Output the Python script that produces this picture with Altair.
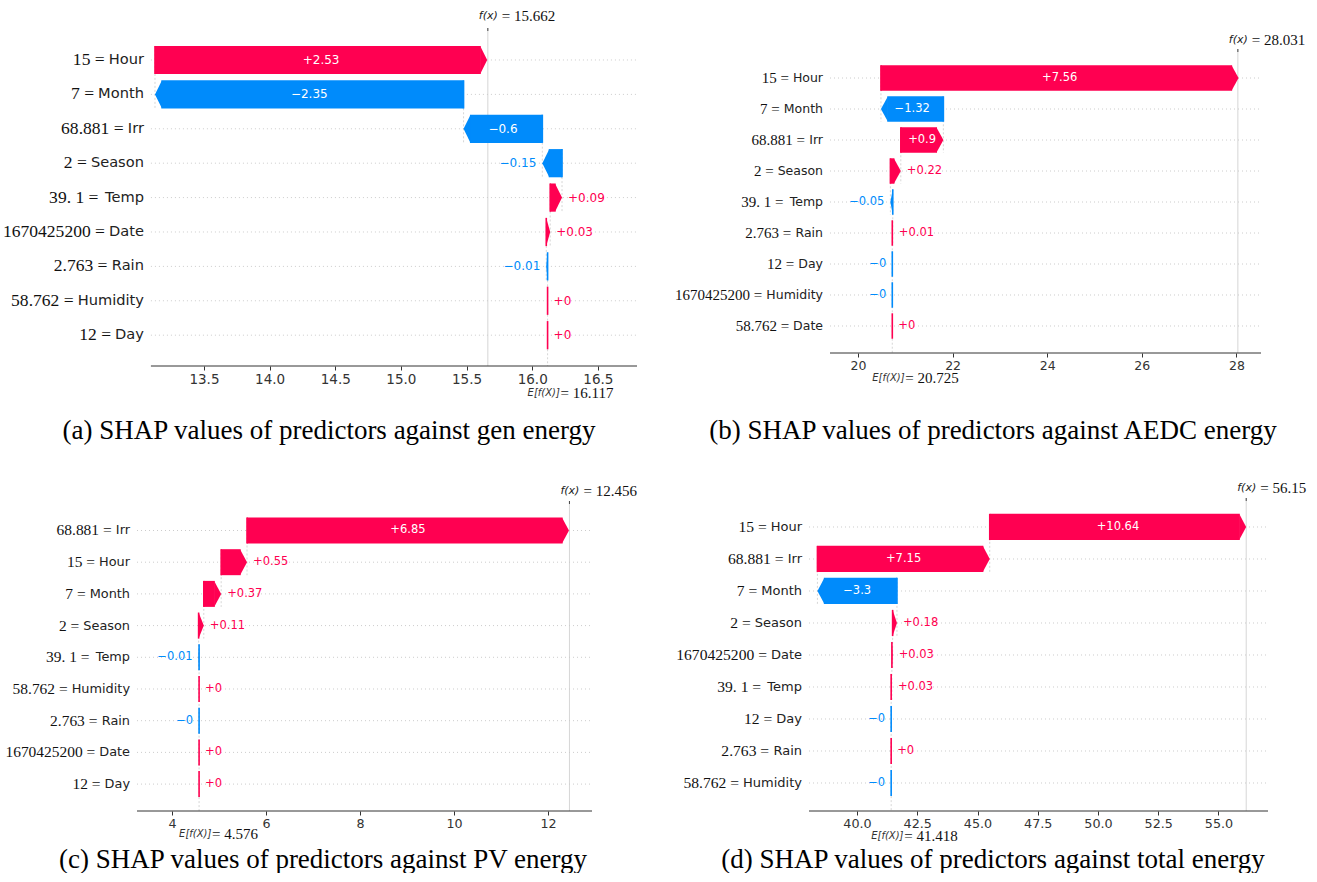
import math
import altair as alt
import pandas as pd

RED = "#ff0051"
BLUE = "#008bfb"

# ---------------- data ----------------
# (a) generation energy
gen_values = ["15", "7", "68.881", "2", "39. 1", "1670425200", "2.763", "58.762", "12"]
gen_features = ["Hour", "Month", "Irr", "Season", "Temp", "Date", "Rain", "Humidity", "Day"]
gen_shap = [2.53, -2.35, -0.6, -0.15, 0.09, 0.03, -0.01, 0.0, 0.0]
gen_base = 16.117
gen_fx = 15.662
gen_ticks = [13.5, 14.0, 14.5, 15.0, 15.5, 16.0, 16.5]

# (b) AEDC energy
aedc_values = ["15", "7", "68.881", "2", "39. 1", "2.763", "12", "1670425200", "58.762"]
aedc_features = ["Hour", "Month", "Irr", "Season", "Temp", "Rain", "Day", "Humidity", "Date"]
aedc_shap = [7.56, -1.32, 0.9, 0.22, -0.05, 0.01, -0.0, -0.0, 0.0]
aedc_base = 20.725
aedc_fx = 28.031
aedc_ticks = [20, 22, 24, 26, 28]

# (c) PV energy
pv_values = ["68.881", "15", "7", "2", "39. 1", "58.762", "2.763", "1670425200", "12"]
pv_features = ["Irr", "Hour", "Month", "Season", "Temp", "Humidity", "Rain", "Date", "Day"]
pv_shap = [6.85, 0.55, 0.37, 0.11, -0.01, 0.0, -0.0, 0.0, 0.0]
pv_base = 4.576
pv_fx = 12.456
pv_ticks = [4, 6, 8, 10, 12]

# (d) total energy
total_values = ["15", "68.881", "7", "2", "1670425200", "39. 1", "12", "2.763", "58.762"]
total_features = ["Hour", "Irr", "Month", "Season", "Date", "Temp", "Day", "Rain", "Humidity"]
total_shap = [10.64, 7.15, -3.3, 0.18, 0.03, 0.03, -0.0, 0.0, -0.0]
total_base = 41.418
total_fx = 56.15
total_ticks = [40.0, 42.5, 45.0, 47.5, 50.0, 52.5, 55.0]

captions = [
    "(a) SHAP values of predictors against gen energy",
    "(b) SHAP values of predictors against AEDC energy",
    "(c) SHAP values of predictors against PV energy",
    "(d) SHAP values of predictors against total energy",
]

# ---------------- layout of each waterfall panel ----------------
LAYOUT = {
    "a": dict(width=500, height=338, xmin=12.990, xmax=16.798, lo=13.096, hi=16.798,
              ytop=-0.930, ybot=8.896, fx_y=-12, fx_top=0, e_off=27, cap=(192, 403),
              fs=1.17, vfs=12),
    "b": dict(width=452, height=325, xmin=18.964, xmax=28.520, lo=19.408, hi=28.520,
              ytop=-1.613, ybot=8.871, fx_y=12, fx_top=21, e_off=25, cap=(184, 403),
              fs=1.0, vfs=11.5),
    "c": dict(width=455, height=313, xmin=3.255, xmax=12.936, lo=3.255, hi=12.936,
              ytop=-1.025, ybot=8.849, fx_y=-7, fx_top=3, e_off=23, cap=(186, 362),
              fs=1.03, vfs=11.5),
    "d": dict(width=459, height=313, xmin=38.008, xmax=57.054, lo=38.008, hi=57.054,
              ytop=-0.906, ybot=8.875, fx_y=-10, fx_top=0, e_off=25, cap=(184, 362),
              fs=1.04, vfs=11.5),
}

HALF = 0.41        # half bar thickness in row units
HEAD_PX = 7        # arrow head length in pixels
NAME_SIZE = 12.5
NUM_SIZE = 15

# DejaVu Sans advance widths (em) used to place the value part of each label
DJV = {'H': .752, 'o': .612, 'u': .634, 'r': .411, 'M': .863, 'n': .634, 't': .392,
       'h': .634, 'I': .295, 'S': .635, 'e': .615, 'a': .613, 's': .521, 'T': .611,
       'm': .974, 'p': .635, 'D': .770, 'R': .695, 'i': .278, 'y': .592, 'd': .635}


def name_width(s, size):
    return sum(DJV.get(c, 0.6) for c in s) * size


def fmt_shap(v):
    return f"{v:+g}".replace("-", "\u2212")


def panel(values, features, shap, base, fx, ticks, tick_fmt, caption, g, anchor=False):
    n = len(shap)
    ppu = g["width"] / (g["xmax"] - g["xmin"])
    row_px = g["height"] / (g["ybot"] - g["ytop"])
    r_px = HALF * row_px
    name_size = NAME_SIZE * g["fs"]
    num_size = NUM_SIZE * g["fs"]

    # waterfall: bottom row starts at the base value
    starts = [0.0] * n
    acc = base
    for i in range(n - 1, -1, -1):
        starts[i] = acc
        acc += shap[i]

    rows, bodies, heads, conn = [], [], [], []
    name_x = (g["lo"] - g["xmin"]) * ppu - 7
    for i, v in enumerate(shap):
        s = starts[i]
        e = s + v
        pos = math.copysign(1, v) > 0
        col = RED if pos else BLUE
        top, bot = i - HALF, i + HALF
        if v != 0:
            h_px = min(abs(v) * ppu, HEAD_PX)
            h = h_px / ppu
            hx = e - h if v > 0 else e + h
            if abs(v) * ppu > HEAD_PX:
                overlap = 0.6 / ppu
                b1, b2 = (s, hx + overlap) if v > 0 else (hx - overlap, s)
                bodies.append(dict(row=i, x1=b1, x2=b2, yt=top, yb=bot, c=col))
            L = h_px / r_px
            path = f"M0,-1L{L:.4f},0L0,1Z" if v > 0 else f"M0,-1L{-L:.4f},0L0,1Z"
            heads.append(dict(row=i, x=hx, c=col, shp=path))
        inside = abs(v) * ppu > 35
        num_px = name_x - name_width(features[i], name_size) - 4
        rows.append(dict(
            row=i, s=s, e=e, mid=(s + e) / 2, c=col, lab=fmt_shap(v),
            kind="in" if inside else ("right" if pos else "left"),
            yt=top, yb=bot, lo=g["lo"], hi=g["hi"],
            feat=features[i], num=values[i] + " =",
            numx=g["xmin"] + num_px / ppu,
        ))
        if i < n - 1:
            conn.append(dict(x=s, y1=i - HALF, y2=i + 1 + HALF))

    rdf = pd.DataFrame(rows)
    bdf = pd.DataFrame(bodies)
    hdf = pd.DataFrame(heads)
    cdf = pd.DataFrame(conn)

    xs = alt.Scale(domain=[g["xmin"], g["xmax"]], nice=False, zero=False)
    ys = alt.Scale(domain=[g["ytop"], g["ybot"]], reverse=True, nice=False, zero=False)
    xaxis = alt.Axis(values=ticks, format=tick_fmt, domain=False, grid=False,
                     tickSize=4, tickColor="#333333", tickWidth=1,
                     labelFont="DejaVu Sans", labelFontSize=12.5 * g["fs"] ** 0.5,
                     labelColor="#333333", labelPadding=2, title=None)

    def X(f):
        return alt.X(f, type="quantitative", scale=xs, axis=xaxis)

    def Y(f):
        return alt.Y(f, type="quantitative", scale=ys, axis=None)

    fill = alt.Color("c:N", scale=None)
    layers = []
    # dotted row guides
    layers.append(alt.Chart(rdf).mark_rule(color="#cccccc", strokeDash=[1, 3], strokeWidth=1)
                  .encode(x=X("lo"), x2="hi", y=Y("row")))
    # dashed connectors between consecutive bars
    layers.append(alt.Chart(cdf).mark_rule(color="#bbbbbb", strokeDash=[2, 2], strokeWidth=0.6)
                  .encode(x=X("x"), y=Y("y1"), y2="y2"))
    # base value guide
    edf = pd.DataFrame({"x": [base], "y1": [n - 1 + HALF], "y2": [g["ybot"]],
                        "t1": ["E[f(X)]"], "t2": [f"= {base:.3f}"]})
    layers.append(alt.Chart(edf).mark_rule(color="#bbbbbb", strokeDash=[2, 2], strokeWidth=0.6)
                  .encode(x=X("x"), y=Y("y1"), y2="y2"))
    # model output guide
    fdf = pd.DataFrame({"x": [fx], "t1": ["f(x)"], "t2": [f"= {fx:g}"]})
    layers.append(alt.Chart(fdf).mark_rule(color="#cccccc", strokeWidth=0.8)
                  .encode(x=X("x"), y=alt.value(g["fx_top"]), y2=alt.value(g["height"])))
    layers.append(alt.Chart(fdf).mark_rule(color="#444444", strokeWidth=1)
                  .encode(x=X("x"), y=alt.value(g["fx_top"]), y2=alt.value(g["fx_top"] + 3)))
    # bar bodies and arrow heads
    if len(bdf):
        layers.append(alt.Chart(bdf).mark_rect(strokeWidth=0)
                      .encode(x=X("x1"), x2="x2", y=Y("yt"), y2="yb", color=fill))
    layers.append(alt.Chart(hdf).mark_point(filled=True, opacity=1, strokeWidth=0,
                                            size=(2 * r_px) ** 2)
                  .encode(x=X("x"), y=Y("row"), color=fill,
                          shape=alt.Shape("shp:N", scale=None)))
    layers.append(alt.Chart(rdf).mark_rule(strokeWidth=1.6)
                  .encode(x=X("s"), y=Y("yt"), y2="yb", color=fill))
    # value labels
    lab_font = dict(font="DejaVu Sans", fontSize=g["vfs"], baseline="middle")
    layers.append(alt.Chart(rdf).transform_filter("datum.kind == 'in'")
                  .mark_text(align="center", color="white", **lab_font)
                  .encode(x=X("mid"), y=Y("row"), text="lab:N"))
    layers.append(alt.Chart(rdf).transform_filter("datum.kind == 'right'")
                  .mark_text(align="left", dx=6, **lab_font)
                  .encode(x=X("e"), y=Y("row"), text="lab:N", color=fill))
    layers.append(alt.Chart(rdf).transform_filter("datum.kind == 'left'")
                  .mark_text(align="right", dx=-6, **lab_font)
                  .encode(x=X("e"), y=Y("row"), text="lab:N", color=fill))
    # row labels: feature value (serif) and feature name (sans)
    layers.append(alt.Chart(rdf).mark_text(align="right", baseline="middle", font="DejaVu Sans",
                                           fontSize=name_size, color="#222222")
                  .encode(x=alt.value(name_x), y=Y("row"), text="feat:N"))
    layers.append(alt.Chart(rdf).mark_text(align="right", baseline="middle", font="Liberation Serif",
                                           fontSize=num_size, color="#111111")
                  .encode(x=X("numx"), y=Y("row"), text="num:N"))
    # axis line
    layers.append(alt.Chart(rdf.head(1)).mark_rule(color="#333333", strokeWidth=1)
                  .encode(x=X("lo"), x2="hi", y=alt.value(g["height"])))
    # f(x) annotation
    layers.append(alt.Chart(fdf).mark_text(align="left", baseline="middle", dx=-9,
                                           font="DejaVu Sans", fontSize=11, fontStyle="italic",
                                           color="#222222")
                  .encode(x=X("x"), y=alt.value(g["fx_y"]), text="t1:N"))
    layers.append(alt.Chart(fdf).mark_text(align="left", baseline="middle", dx=14,
                                           font="Liberation Serif", fontSize=NUM_SIZE, color="#111111")
                  .encode(x=X("x"), y=alt.value(g["fx_y"]), text="t2:N"))
    # E[f(X)] annotation
    ey = g["height"] + g["e_off"]
    layers.append(alt.Chart(edf).mark_text(align="left", baseline="middle", dx=-20,
                                           font="DejaVu Sans", fontSize=10, fontStyle="italic",
                                           color="#333333")
                  .encode(x=X("x"), y=alt.value(ey), text="t1:N"))
    layers.append(alt.Chart(edf).mark_text(align="left", baseline="middle", dx=13,
                                           font="Liberation Serif", fontSize=NUM_SIZE, color="#111111")
                  .encode(x=X("x"), y=alt.value(ey), text="t2:N"))
    # caption
    capdf = pd.DataFrame({"t": [caption]})
    layers.append(alt.Chart(capdf).mark_text(align="center", baseline="middle",
                                             font="Liberation Serif", fontSize=27, color="black")
                  .encode(x=alt.value(g["cap"][0]), y=alt.value(g["cap"][1]), text="t:N"))
    if anchor:
        layers.append(alt.Chart(capdf).mark_point(size=1, opacity=0)
                      .encode(x=alt.value(-136), y=alt.value(-27)))

    return alt.layer(*layers).properties(width=g["width"], height=g["height"])


pa = panel(gen_values, gen_features, gen_shap, gen_base, gen_fx, gen_ticks, ".1f",
           captions[0], LAYOUT["a"], anchor=True)
pb = panel(aedc_values, aedc_features, aedc_shap, aedc_base, aedc_fx, aedc_ticks, "d",
           captions[1], LAYOUT["b"])
pc = panel(pv_values, pv_features, pv_shap, pv_base, pv_fx, pv_ticks, "d",
           captions[2], LAYOUT["c"])
pd_ = panel(total_values, total_features, total_shap, total_base, total_fx, total_ticks, ".1f",
            captions[3], LAYOUT["d"])

chart = (
    alt.concat(pa, pb, pc, pd_, columns=2, spacing={"row": 132, "column": 172}, bounds="flush")
    .properties(padding=0, background="white")
    .configure_view(strokeWidth=0)
)

chart.save("out.html", embed_options={"renderer": "svg", "actions": False})
